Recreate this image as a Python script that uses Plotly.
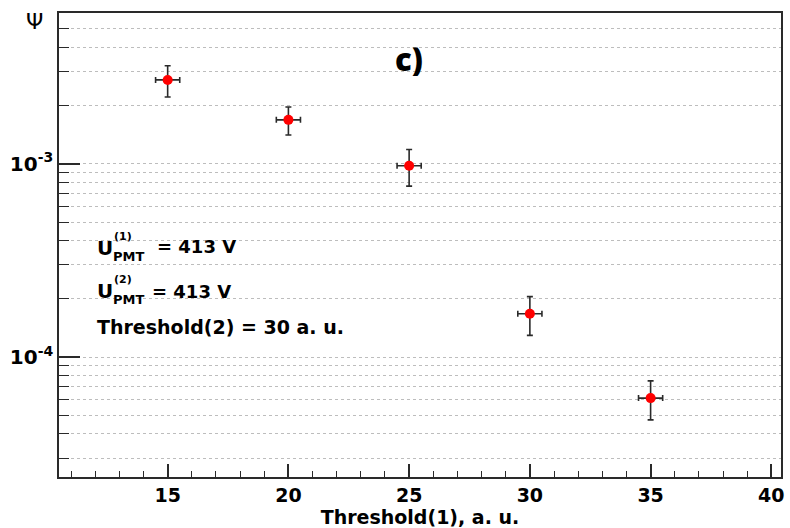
import plotly.graph_objects as go

# ---- data ----
thresholds = [15, 20, 25, 30, 35]
psi = [2.72e-3, 1.69e-3, 0.977e-3, 1.675e-4, 6.13e-5]
psi_err = [5.0e-4, 2.8e-4, 2.1e-4, 3.8e-5, 1.4e-5]
thr_err = [0.5, 0.5, 0.5, 0.5, 0.5]

major_y = [1e-4, 1e-3]
major_y_text = ["10<sup>-4</sup>", "10<sup>-3</sup>"]
minor_y = [m * 10.0 ** e for e in (-5, -4, -3) for m in range(1, 10)]

X_RANGE = [10.5, 40.4]
Y_RANGE = [-4.621, -2.219]

AX = "#2a2a2a"
GRID = "#bdbdbd"
BOLD = "DejaVu Sans"

fig = go.Figure()
fig.add_trace(go.Scatter(
    x=thresholds, y=psi, mode="markers",
    marker=dict(color="#ff0000", size=10),
    error_y=dict(type="data", array=psi_err, color=AX, thickness=1.6, width=3),
    error_x=dict(type="data", array=thr_err, color=AX, thickness=1.6, width=3),
    showlegend=False, hoverinfo="x+y",
))

fig.update_layout(
    width=790, height=528,
    margin=dict(l=59, r=5, t=13, b=51),
    paper_bgcolor="white", plot_bgcolor="white",
    xaxis=dict(
        range=X_RANGE, tick0=0, dtick=5,
        ticks="inside", ticklen=13, tickwidth=1.5, tickcolor=AX,
        minor=dict(dtick=1, ticks="inside", ticklen=6, tickwidth=1.2, tickcolor=AX, showgrid=False),
        showgrid=False, zeroline=False,
        showline=True, linecolor=AX, linewidth=1.6, mirror=True,
        tickfont=dict(family=BOLD, size=19, color="black", weight="bold"),
        title=dict(text="Threshold(1), a. u.", standoff=0,
                   font=dict(family=BOLD, size=19, color="black", weight="bold")),
    ),
    yaxis=dict(
        type="log", range=Y_RANGE,
        tickmode="array", tickvals=major_y, ticktext=major_y_text,
        ticks="inside", ticklen=21, tickwidth=1.5, tickcolor=AX,
        showgrid=True, gridcolor=GRID, griddash="dot", gridwidth=1,
        minor=dict(tickmode="array", tickvals=minor_y, ticks="inside", ticklen=10,
                   tickwidth=1.2, tickcolor=AX, showgrid=True,
                   gridcolor=GRID, griddash="dot", gridwidth=1),
        zeroline=False,
        showline=True, linecolor=AX, linewidth=1.6, mirror=True,
        tickfont=dict(family=BOLD, size=20, color="black", weight="bold"),
    ),
)

def px2paper(px, py):
    return (px - 59) / 726.0, (477.3 - py) / 464.3

def note(text, px, py, size, family=BOLD, weight="bold", xanchor="left"):
    x, y = px2paper(px, py)
    fig.add_annotation(x=x, y=y, xref="paper", yref="paper", text=text,
                       showarrow=False, xanchor=xanchor, yanchor="middle",
                       font=dict(family=family, size=size, color="black", weight=weight))

# y-axis title
note("Ψ", 34, 22, 22, family="DejaVu Sans", weight="normal", xanchor="center")

# panel label
note("c)", 411, 59, 31, family="Open Sans", weight=800, xanchor="center")

# info text
note("U", 95, 248, 20)
note("(1)", 112, 237, 11)
note("PMT", 111, 257, 13)
note("= 413 V", 156, 247, 18)
note("U", 95, 291, 20)
note("(2)", 112, 280, 11)
note("PMT", 111, 300, 13)
note("= 413 V", 151, 292, 18)
note("Threshold(2) = 30 a. u.", 95, 327, 19)

fig.write_html("out.html")
